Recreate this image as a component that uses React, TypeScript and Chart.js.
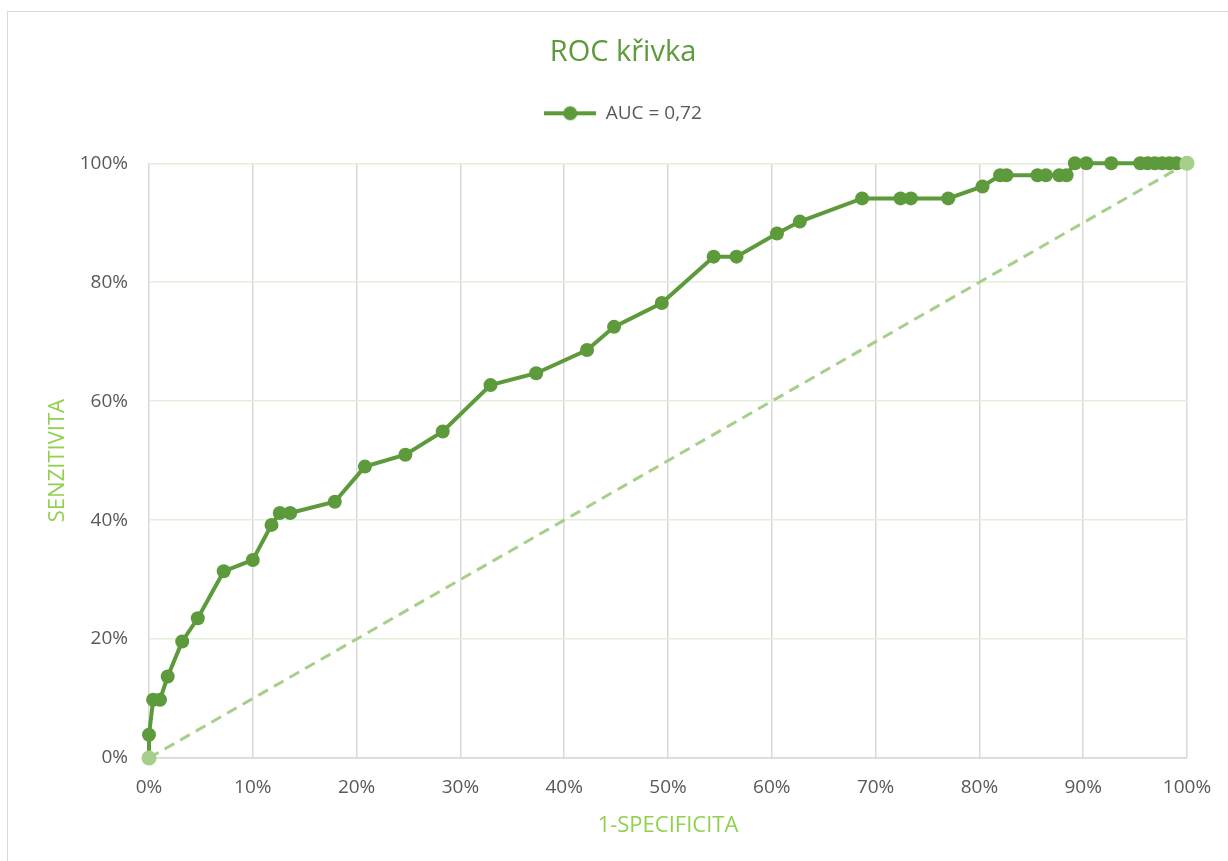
import React, { useEffect, useRef } from 'react';
import { Chart, registerables } from 'chart.js';

Chart.register(...registerables);

// ROC curve points (in percent)
const fpr = [0, 0, 0.4, 1.06, 1.8, 3.2, 4.7, 7.2, 10.0, 11.8, 12.6, 13.6, 17.9, 20.8, 24.7, 28.3, 32.9, 37.3, 42.2, 44.8, 49.4, 54.4, 56.6, 60.5, 62.7, 68.7, 72.4, 73.4, 77.0, 80.3, 82.0, 82.6, 85.6, 86.4, 87.7, 88.4, 89.2, 90.3, 92.7, 95.5, 96.2, 96.9, 97.6, 98.3, 99.0, 100];
const tpr = [0, 3.9, 9.8, 9.8, 13.7, 19.6, 23.5, 31.4, 33.3, 39.2, 41.2, 41.2, 43.1, 49.0, 51.0, 54.9, 62.7, 64.7, 68.6, 72.5, 76.5, 84.3, 84.3, 88.2, 90.2, 94.1, 94.1, 94.1, 94.1, 96.1, 98.0, 98.0, 98.0, 98.0, 98.0, 98.0, 100, 100, 100, 100, 100, 100, 100, 100, 100, 100];

// Reference diagonal
const diagX = [0, 100];
const diagY = [0, 100];

const seriesLabel = 'AUC = 0,72';
const chartTitle = 'ROC křivka';
const xTitle = '1-SPECIFICITA';
const yTitle = 'SENZITIVITA';

const GREEN = '#5d9a3b';
const LIGHT_GREEN = '#a6cf8b';
const AXIS_TITLE = '#92d050';
const TICK = '#595959';
const GRID_GRAY = '#d9d9d9';
const GRID_GREEN = '#e2efda';
const FONT = "'Open Sans', 'Noto Sans', sans-serif";

function makeLegendIcon(): HTMLCanvasElement {
  const c = document.createElement('canvas');
  c.width = 52;
  c.height = 16;
  const ctx = c.getContext('2d')!;
  ctx.strokeStyle = GREEN;
  ctx.lineWidth = 4;
  ctx.beginPath();
  ctx.moveTo(0, 8);
  ctx.lineTo(52, 8);
  ctx.stroke();
  ctx.fillStyle = GREEN;
  ctx.beginPath();
  ctx.arc(26, 8, 7, 0, Math.PI * 2);
  ctx.fill();
  return c;
}

export default function App() {
  const ref = useRef<HTMLCanvasElement | null>(null);

  useEffect(() => {
    if (!ref.current) return;
    const icon = makeLegendIcon();
    const chart = new Chart(ref.current, {
      type: 'line',
      data: {
        datasets: [
          {
            label: 'diag',
            data: diagX.map((x, i) => ({ x, y: diagY[i] })),
            borderColor: LIGHT_GREEN,
            backgroundColor: LIGHT_GREEN,
            borderWidth: 3,
            borderDash: [11, 7],
            pointRadius: 7.5,
            pointBorderWidth: 0,
            pointBackgroundColor: LIGHT_GREEN,
            order: 0,
            clip: false,
            xAxisID: 'x',
            yAxisID: 'y',
          },
          {
            label: seriesLabel,
            data: fpr.map((x, i) => ({ x, y: tpr[i] })),
            borderColor: GREEN,
            backgroundColor: GREEN,
            borderWidth: 4,
            pointRadius: 7,
            pointBorderWidth: 0,
            pointBackgroundColor: GREEN,
            order: 1,
            clip: false,
            xAxisID: 'x',
            yAxisID: 'y',
          },
        ],
      },
      options: {
        responsive: false,
        animation: false,
        events: [],
        layout: { padding: 0 },
        plugins: {
          tooltip: { enabled: false },
          title: {
            display: true,
            text: chartTitle,
            color: GREEN,
            font: { family: FONT, size: 29, weight: 'normal', lineHeight: 1.2 },
            padding: { top: 35, bottom: 24 },
          },
          legend: {
            display: true,
            position: 'top',
            labels: {
              filter: (item: any) => item.text === seriesLabel,
              usePointStyle: true,
              pointStyle: icon as any,
              pointStyleWidth: 52,
              color: TICK,
              font: { family: FONT, size: 19 },
              padding: 10,
            },
          },
        },
        scales: {
          x: {
            type: 'linear',
            position: 'bottom',
            min: 0,
            max: 100,
            ticks: {
              stepSize: 10,
              color: TICK,
              font: { family: FONT, size: 19 },
              padding: 18,
              callback: (v: any) => v + '%',
            },
            grid: { color: GRID_GRAY, lineWidth: 1.5, drawTicks: false },
            border: { display: true, color: GRID_GRAY, width: 1.5 },
            title: {
              display: true,
              text: xTitle,
              color: AXIS_TITLE,
              font: { family: FONT, size: 22 },
              padding: { top: 0, bottom: 22 },
            },
            afterFit: (s: any) => { s.height = 103; },
          },
          y: {
            type: 'linear',
            position: 'left',
            min: 0,
            max: 100,
            ticks: {
              stepSize: 20,
              color: TICK,
              font: { family: FONT, size: 19 },
              padding: 21,
              callback: (v: any) => v + '%',
            },
            grid: {
              color: (ctx: any) => (ctx.tick && ctx.tick.value === 0 ? GRID_GRAY : GRID_GREEN),
              lineWidth: 1.5,
              drawTicks: false,
            },
            border: { display: false },
            title: {
              display: true,
              text: yTitle,
              color: AXIS_TITLE,
              font: { family: FONT, size: 22 },
              padding: { top: 45, bottom: 0 },
            },
            afterFit: (s: any) => { s.width = 149; },
          },
          spacerTop: {
            type: 'linear',
            position: 'top',
            display: true,
            grid: { display: false, drawTicks: false },
            border: { display: false },
            ticks: { display: false },
            afterFit: (s: any) => { s.height = 30.5; },
          },
          spacerRight: {
            type: 'linear',
            position: 'right',
            display: true,
            grid: { display: false, drawTicks: false },
            border: { display: false },
            ticks: { display: false },
            afterFit: (s: any) => { s.width = 59; },
          },
        },
      } as any,
    });
    return () => chart.destroy();
  }, []);

  return (
    <div style={{ position: 'fixed', left: 0, top: 0, width: 1228, height: 861, overflow: 'hidden', background: '#ffffff' }}>
      <div
        style={{
          position: 'absolute',
          left: 7,
          top: 11,
          width: 1232,
          height: 900,
          border: '1.5px solid #d9d9d9',
          boxSizing: 'border-box',
        }}
      />
      <canvas
        ref={ref}
        width={1246}
        height={861}
        style={{ position: 'absolute', left: 0, top: 0, display: 'block' }}
      />
    </div>
  );
}
